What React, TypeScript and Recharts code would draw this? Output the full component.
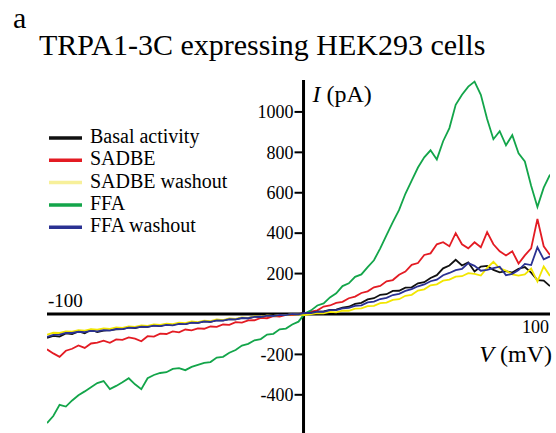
import React from "react";
import { LineChart, Line, XAxis, YAxis, ReferenceLine, ReferenceDot } from "recharts";

// Membrane potential (mV), x values of the I-V traces
const V_MV = [
  -100, -97.5, -95, -92.5, -90, -87.5, -85, -82.5, -80, -77.5, -75, -72.5, -70, -67.5, -65, -62.5, -60,
  -57.5, -55, -52.5, -50, -47.5, -45, -42.5, -40, -37.5, -35, -32.5, -30, -27.5, -25, -22.5, -20, -17.5,
  -15, -12.5, -10, -7.5, -5, -2.5, 0, 2.5, 5, 7.5, 10, 12.5, 15, 17.5, 20, 22.5, 25, 27.5, 30, 32.5, 35,
  37.5, 40, 42.5, 45, 47.5, 50, 52.5, 55, 57.5, 60, 62.5, 65, 67.5, 70, 72.5, 75, 77.5, 80, 82.5, 85, 87.5,
  90, 92.5, 95, 97.5, 100,
];

// Current (pA) per series
const BASAL = [
  -118, -108, -112, -96, -99, -86, -95, -78, -90, -82, -80, -76, -75, -66, -70, -63, -64,
  -56, -60, -52, -54, -47, -50, -42, -44, -37, -39, -31, -32, -25, -27, -19, -21, -13,
  -15, -7, -10, -3, -5, 1, -1, 4, 5, 12, 13, 20, 22, 32, 36, 50, 55, 72, 78, 95, 98,
  114, 115, 130, 132, 152, 157, 178, 192, 226, 240, 268, 240, 255, 210, 235, 238, 218, 206, 212, 205, 224,
  232, 205, 168, 165, 138,
];
const SADBE = [
  -175, -195, -212, -182, -172, -156, -168, -146, -142, -132, -143, -126, -128, -116, -122, -135, -110,
  -112, -97, -99, -86, -91, -77, -81, -71, -73, -62, -64, -52, -54, -40, -43, -32, -31,
  -19, -21, -11, -13, -4, -6, 1, 3, 12, 18, 37, 42, 55, 60, 78, 86, 104, 112, 132, 139, 162,
  168, 194, 210, 243, 252, 292, 300, 345, 355, 335, 400, 345, 325, 355, 330, 405, 345, 310, 290, 310, 250,
  290, 325, 470, 335, 292,
];
const SADBE_WASHOUT = [
  -102, -93, -94, -86, -87, -80, -82, -75, -78, -71, -74, -67, -69, -61, -64, -57, -59,
  -52, -54, -48, -50, -43, -45, -37, -40, -33, -35, -27, -30, -22, -24, -17, -19, -12,
  -14, -7, -10, -4, -6, -1, -3, -6, -1, 4, 3, 10, 8, 16, 16, 27, 28, 39, 40, 54, 56,
  70, 73, 90, 95, 116, 122, 142, 147, 165, 170, 185, 187, 202, 198, 190, 228, 258, 226, 215, 196, 190,
  196, 225, 160, 235, 188,
];
const FFA = [
  -540, -505, -450, -458, -428, -402, -383, -362, -342, -332, -372, -356, -338, -318, -348, -372, -318,
  -302, -292, -288, -272, -268, -278, -262, -252, -242, -238, -216, -212, -192, -178, -156, -148, -130,
  -124, -102, -98, -76, -72, -52, -38, 2, 18, 42, 52, 82, 102, 138, 152, 184, 196, 232, 266, 325, 390,
  455, 515, 595, 660, 725, 775, 810, 765, 855, 920, 1035, 1085, 1125, 1150, 1085, 965, 865, 905, 835, 885, 795,
  755, 635, 530, 625, 690,
];
const FFA_WASHOUT = [
  -114, -103, -102, -94, -94, -88, -90, -84, -86, -80, -82, -74, -75, -68, -69, -63, -64,
  -58, -60, -54, -56, -49, -50, -43, -44, -37, -39, -32, -33, -26, -27, -20, -21, -14,
  -15, -8, -10, -4, -6, 0, -2, 5, 4, 12, 11, 19, 19, 28, 30, 40, 43, 57, 61, 74, 80,
  94, 100, 114, 123, 137, 146, 162, 170, 192, 203, 217, 223, 252, 238, 214, 218, 227, 234, 192, 198, 217,
  248, 242, 330, 270, 285,
];

const LEGEND_LABELS = ["Basal activity", "SADBE", "SADBE washout", "FFA", "FFA washout"];
const Y_TICKS = [1000, 800, 600, 400, 200, -200, -400];
const X_END_LABELS = ["-100", "100"];
const TITLE = "TRPA1-3C expressing HEK293 cells";
const PANEL = "a";

const X_DOMAIN = [-100, 100];
const Y_DOMAIN = [-589, 1158];
const AXIS_V = 2; // vertical axis crosses at this voltage

const COLORS = {
  basal: "#111111",
  sadbe: "#e31b23",
  sadbeW: "#f2e600",
  ffa: "#13a54a",
  ffaW: "#2a3192",
};
const LEGEND_COLORS = [COLORS.basal, COLORS.sadbe, "#f7f09a", COLORS.ffa, COLORS.ffaW];

const FONT = "'Liberation Serif', 'Times New Roman', serif";

const data = V_MV.map((v, i) => ({
  v,
  basal: BASAL[i],
  sadbe: SADBE[i],
  sadbeW: SADBE_WASHOUT[i],
  ffa: FFA[i],
  ffaW: FFA_WASHOUT[i],
}));

const W = 556;
const H = 433;
const SW = 1.8;

export default function App() {
  return (
    <div style={{ position: "absolute", left: 0, top: 0, width: W, height: H, background: "#fff" }}>
      <LineChart
        width={W}
        height={H}
        data={data}
        margin={{ top: 80, right: 6, bottom: 0, left: 47 }}
      >
        <XAxis dataKey="v" type="number" domain={X_DOMAIN} hide allowDataOverflow />
        <YAxis type="number" domain={Y_DOMAIN} hide allowDataOverflow />
        <ReferenceLine y={0} stroke="#000" strokeWidth={3} />
        <ReferenceLine x={AXIS_V} stroke="#000" strokeWidth={3} />
        {Y_TICKS.map((t) => (
          <ReferenceDot
            key={t}
            x={AXIS_V}
            y={t}
            r={0}
            ifOverflow="visible"
            shape={(p: any) => (
              <g>
                <line x1={p.cx - 9} y1={p.cy} x2={p.cx} y2={p.cy} stroke="#000" strokeWidth={2} />
                <text
                  x={p.cx - 10}
                  y={p.cy}
                  dy="0.35em"
                  textAnchor="end"
                  fontSize={18}
                  fontFamily={FONT}
                  fill="#000"
                >
                  {t}
                </text>
              </g>
            )}
          />
        ))}
        <ReferenceDot
          x={X_DOMAIN[0]}
          y={0}
          r={0}
          ifOverflow="visible"
          shape={(p: any) => (
            <text x={p.cx + 1} y={p.cy - 7} textAnchor="start" fontSize={19} fontFamily={FONT} fill="#000">
              {X_END_LABELS[0]}
            </text>
          )}
        />
        <ReferenceDot
          x={X_DOMAIN[1]}
          y={0}
          r={0}
          ifOverflow="visible"
          shape={(p: any) => (
            <g>
              <text x={p.cx - 1} y={p.cy + 19} textAnchor="end" fontSize={18} fontFamily={FONT} fill="#000">
                {X_END_LABELS[1]}
              </text>
              <text x={p.cx + 2} y={p.cy + 48} textAnchor="end" fontSize={24} fontFamily={FONT} fill="#000">
                <tspan fontStyle="italic">V</tspan> (mV)
              </text>
            </g>
          )}
        />
        <ReferenceDot
          x={AXIS_V}
          y={Y_DOMAIN[1]}
          r={0}
          ifOverflow="visible"
          shape={(p: any) => (
            <text x={p.cx + 9} y={p.cy + 22} textAnchor="start" fontSize={24} fontFamily={FONT} fill="#000">
              <tspan fontStyle="italic">I</tspan> (pA)
            </text>
          )}
        />
        <Line dataKey="sadbe" stroke={COLORS.sadbe} strokeWidth={SW} dot={false} isAnimationActive={false} type="linear" />
        <Line dataKey="ffa" stroke={COLORS.ffa} strokeWidth={SW} dot={false} isAnimationActive={false} type="linear" />
        <Line dataKey="basal" stroke={COLORS.basal} strokeWidth={SW} dot={false} isAnimationActive={false} type="linear" />
        <Line dataKey="sadbeW" stroke={COLORS.sadbeW} strokeWidth={SW} dot={false} isAnimationActive={false} type="linear" />
        <Line dataKey="ffaW" stroke={COLORS.ffaW} strokeWidth={SW} dot={false} isAnimationActive={false} type="linear" />
      </LineChart>
      <svg
        width={W}
        height={H}
        style={{ position: "absolute", left: 0, top: 0, pointerEvents: "none" }}
      >
        <text x={13} y={28} fontSize={30} fontFamily={FONT} fill="#000">
          {PANEL}
        </text>
        <text x={39} y={55} fontSize={30} fontFamily={FONT} fill="#000">
          {TITLE}
        </text>
        {LEGEND_LABELS.map((label, i) => {
          const cy = 138 + i * 22.3;
          return (
            <g key={label}>
              <line x1={49} y1={cy} x2={82} y2={cy} stroke={LEGEND_COLORS[i]} strokeWidth={3.5} />
              <text x={90} y={cy + 5} fontSize={20} fontFamily={FONT} fill="#000">
                {label}
              </text>
            </g>
          );
        })}
      </svg>
    </div>
  );
}
